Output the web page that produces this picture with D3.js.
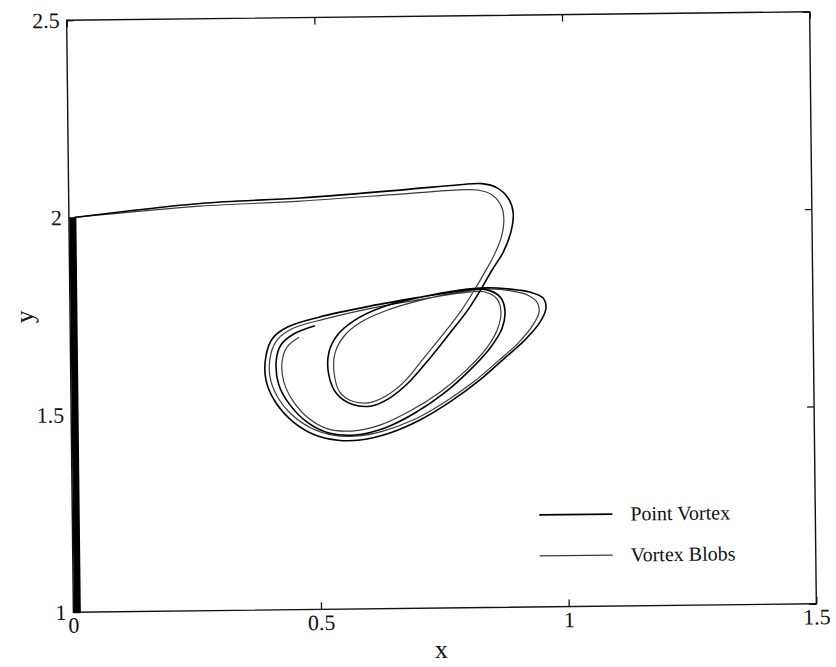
<!DOCTYPE html>
<html>
<head>
<meta charset="utf-8">
<script src="https://cdn.jsdelivr.net/npm/d3@7"></script>
<style>
  body { margin: 0; background: #fff; }
  text { font-family: "Liberation Serif", "Times New Roman", serif; fill: #111; }
</style>
</head>
<body>
<div id="chart-container"></div>
<script>
// axis ticks
const xTicks = [0, 0.5, 1, 1.5];
const yTicks = [1, 1.5, 2, 2.5];

// wall segment the vortex climbs first
const wallX = [0.008, 0.008];
const wallY = [1, 2];

// point vortex trajectory
const pvX = [0.010, 0.265, 0.467, 0.669, 0.790, 0.835, 0.865, 0.887, 0.897, 0.892, 0.876, 0.853, 0.832, 0.803, 0.767, 0.726, 0.681, 0.644, 0.607, 0.567, 0.537, 0.521, 0.522, 0.541, 0.575, 0.626, 0.707, 0.788, 0.838, 0.889, 0.929, 0.955, 0.961, 0.949, 0.918, 0.877, 0.826, 0.765, 0.704, 0.643, 0.583, 0.538, 0.492, 0.448, 0.412, 0.394, 0.395, 0.409, 0.440, 0.504, 0.606, 0.707, 0.788, 0.838, 0.869, 0.878, 0.872, 0.847, 0.806, 0.756, 0.694, 0.633, 0.573, 0.522, 0.476, 0.442, 0.420, 0.415, 0.425, 0.452, 0.494];
const pvY = [2.000, 2.032, 2.043, 2.060, 2.072, 2.074, 2.063, 2.037, 1.999, 1.951, 1.900, 1.855, 1.810, 1.754, 1.697, 1.634, 1.571, 1.534, 1.514, 1.519, 1.545, 1.594, 1.652, 1.697, 1.732, 1.762, 1.788, 1.805, 1.810, 1.806, 1.798, 1.783, 1.757, 1.722, 1.677, 1.632, 1.577, 1.522, 1.477, 1.445, 1.428, 1.428, 1.442, 1.476, 1.528, 1.583, 1.646, 1.689, 1.717, 1.741, 1.767, 1.788, 1.803, 1.806, 1.786, 1.753, 1.707, 1.657, 1.602, 1.547, 1.495, 1.458, 1.441, 1.446, 1.475, 1.519, 1.570, 1.628, 1.671, 1.699, 1.719];

// vortex blobs trajectory
const vbX = [0.010, 0.265, 0.467, 0.669, 0.790, 0.826, 0.855, 0.873, 0.878, 0.872, 0.857, 0.839, 0.820, 0.791, 0.755, 0.714, 0.673, 0.636, 0.600, 0.567, 0.543, 0.532, 0.534, 0.553, 0.585, 0.636, 0.717, 0.798, 0.848, 0.893, 0.925, 0.943, 0.947, 0.934, 0.904, 0.863, 0.812, 0.751, 0.690, 0.629, 0.573, 0.528, 0.484, 0.444, 0.416, 0.402, 0.405, 0.419, 0.450, 0.515, 0.610, 0.711, 0.792, 0.836, 0.862, 0.870, 0.862, 0.837, 0.796, 0.745, 0.684, 0.623, 0.566, 0.518, 0.478, 0.448, 0.430, 0.427, 0.437, 0.462];
const vbY = [2.000, 2.025, 2.035, 2.050, 2.059, 2.058, 2.045, 2.017, 1.982, 1.936, 1.891, 1.851, 1.811, 1.755, 1.697, 1.635, 1.574, 1.539, 1.522, 1.527, 1.550, 1.596, 1.649, 1.692, 1.725, 1.754, 1.783, 1.802, 1.807, 1.801, 1.790, 1.772, 1.747, 1.714, 1.669, 1.624, 1.571, 1.519, 1.477, 1.450, 1.438, 1.441, 1.460, 1.496, 1.542, 1.593, 1.651, 1.686, 1.713, 1.736, 1.762, 1.783, 1.798, 1.800, 1.782, 1.749, 1.703, 1.652, 1.599, 1.547, 1.500, 1.465, 1.451, 1.457, 1.486, 1.529, 1.578, 1.628, 1.665, 1.690];

const seriesNames = ["Point Vortex", "Vortex Blobs"];

const W = 836, H = 667;
const margin = { top: 16, right: 23, bottom: 59, left: 70 },
      width = W - margin.left - margin.right,
      height = H - margin.top - margin.bottom;

const svg = d3.select("#chart-container").append("svg")
    .attr("width", W)
    .attr("height", H);

// the scanned original sits slightly tilted
const page = svg.append("g")
    .attr("transform", `rotate(-0.65, ${margin.left + width / 2}, ${margin.top + height / 2})`);

const g = page.append("g")
    .attr("transform", `translate(${margin.left},${margin.top})`);

const x = d3.scaleLinear().domain([0, 1.5]).range([0, width]);
const y = d3.scaleLinear().domain([1, 2.5]).range([height, 0]);

const fmt = d => String(d);

// axes, ticks pointing inward
g.append("g")
    .attr("transform", `translate(0,${height})`)
    .call(d3.axisBottom(x).tickValues(xTicks).tickFormat(fmt).tickSize(-7).tickPadding(5));
g.append("g")
    .call(d3.axisTop(x).tickValues(xTicks).tickFormat("").tickSize(-7));
g.append("g")
    .call(d3.axisLeft(y).tickValues(yTicks).tickFormat(fmt).tickSize(-7).tickPadding(7));
g.append("g")
    .attr("transform", `translate(${width},0)`)
    .call(d3.axisRight(y).tickValues(yTicks).tickFormat("").tickSize(-7));

g.selectAll(".domain").remove();
g.selectAll(".tick line").attr("stroke", "#111").attr("stroke-width", 1.3);
g.selectAll(".tick text")
    .attr("font-size", 22)
    .attr("font-family", "Liberation Serif, serif")
    .attr("fill", "#111");

// frame
g.append("rect")
    .attr("width", width)
    .attr("height", height)
    .attr("fill", "none")
    .attr("stroke", "#111")
    .attr("stroke-width", 1.4);

const line = d3.line()
    .x(d => x(d[0]))
    .y(d => y(d[1]))
    .curve(d3.curveCatmullRom.alpha(0.5));

// thick wall stroke
g.append("path")
    .datum(d3.zip(wallX, wallY))
    .attr("d", line)
    .attr("fill", "none")
    .attr("stroke", "#000")
    .attr("stroke-width", 7);

g.append("path")
    .datum(d3.zip(vbX, vbY))
    .attr("d", line)
    .attr("fill", "none")
    .attr("stroke", "#3a3a3a")
    .attr("stroke-width", 1.2);

g.append("path")
    .datum(d3.zip(pvX, pvY))
    .attr("d", line)
    .attr("fill", "none")
    .attr("stroke", "#000")
    .attr("stroke-width", 1.6);

// legend
const legend = g.append("g")
    .attr("transform", `translate(467,${height - 92})`);
const styles = [{ c: "#000", w: 1.6 }, { c: "#3a3a3a", w: 1.2 }];
seriesNames.forEach((name, i) => {
  const row = legend.append("g").attr("transform", `translate(0,${i * 41})`);
  row.append("line")
      .attr("x1", 0).attr("x2", 73)
      .attr("stroke", styles[i].c)
      .attr("stroke-width", styles[i].w);
  row.append("text")
      .attr("x", 91)
      .attr("dy", "0.33em")
      .attr("font-size", 20)
      .text(name);
});

// axis labels
g.append("text")
    .attr("x", width / 2 - 4)
    .attr("y", height + 50)
    .attr("text-anchor", "middle")
    .attr("font-size", 26)
    .text("x");
g.append("text")
    .attr("transform", `translate(${-37},${height / 2}) rotate(-90)`)
    .attr("text-anchor", "middle")
    .attr("font-size", 26)
    .text("y");
</script>
</body>
</html>
